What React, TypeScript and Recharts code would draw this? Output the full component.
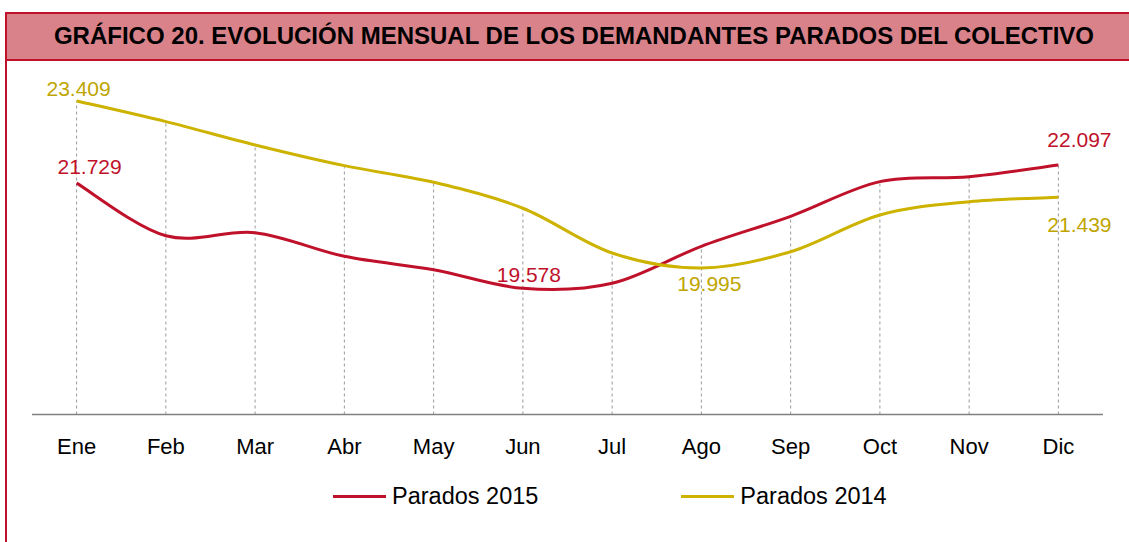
import { LineChart, Line, XAxis, YAxis, ReferenceLine, Legend } from "recharts";

const months = ["Ene", "Feb", "Mar", "Abr", "May", "Jun", "Jul", "Ago", "Sep", "Oct", "Nov", "Dic"];
const parados2015 = [21729, 20654, 20716, 20233, 19959, 19578, 19681, 20438, 21051, 21759, 21861, 22097];
const parados2014 = [23409, 22986, 22509, 22086, 21746, 21215, 20301, 19995, 20327, 21078, 21350, 21439];
const yDomain = [17000, 24000];
const seriesNames = ["Parados 2015", "Parados 2014"];
const labeled2015 = ["Ene", "Jun", "Dic"];
const labeled2014 = ["Ene", "Ago", "Dic"];

const RED = "#C0112B";
const GOLD = "#CDB300";
const FONT = "'Liberation Sans', Arial, sans-serif";

// label nudges (dx, dy) as placed in the original
const offsets2015: Record<string, [number, number]> = { Ene: [13, -16], Jun: [6, -14], Dic: [21, -25] };
const offsets2014: Record<string, [number, number]> = { Ene: [2, -12], Ago: [8, 16], Dic: [21, 27] };

const data = months.map((m, i) => ({ mes: m, p2015: parados2015[i], p2014: parados2014[i] }));

// Excel-like smoothing (Catmull-Rom through every point)
function excelCurve(context: any) {
  let pts: number[][] = [];
  return {
    areaStart() {},
    areaEnd() {},
    lineStart() {
      pts = [];
    },
    point(x: number, y: number) {
      pts.push([+x, +y]);
    },
    lineEnd() {
      if (!pts.length) return;
      context.moveTo(pts[0][0], pts[0][1]);
      for (let i = 0; i < pts.length - 1; i++) {
        const p0 = pts[Math.max(i - 1, 0)];
        const p1 = pts[i];
        const p2 = pts[i + 1];
        const p3 = pts[Math.min(i + 2, pts.length - 1)];
        context.bezierCurveTo(
          p1[0] + (p2[0] - p0[0]) / 6,
          p1[1] + (p2[1] - p0[1]) / 6,
          p2[0] - (p3[0] - p1[0]) / 6,
          p2[1] - (p3[1] - p1[1]) / 6,
          p2[0],
          p2[1]
        );
      }
    },
  };
}

const fmt = (v: number) => v.toLocaleString("de-DE");

const makeLabel = (shown: string[], offs: Record<string, [number, number]>, color: string) => (p: any) => {
  const m = months[p.index];
  if (!shown.includes(m)) return <g key={p.index} />;
  const [dx, dy] = offs[m];
  return (
    <text key={p.index} x={p.x + dx} y={p.y + dy} dy="0.35em" textAnchor="middle" fill={color} fontSize={21} fontFamily={FONT}>
      {fmt(p.value)}
    </text>
  );
};

const renderLegend = (props: any) => {
  const items = [...(props.payload || [])].sort(
    (a: any, b: any) => seriesNames.indexOf(a.value) - seriesNames.indexOf(b.value)
  );
  return (
    <div style={{ display: "flex", height: 30, alignItems: "center", paddingLeft: 333, fontFamily: FONT }}>
      {items.map((e: any, i: number) => (
        <div key={i} style={{ display: "flex", alignItems: "center", marginRight: 143 }}>
          <span style={{ display: "inline-block", width: 53, height: 3, background: e.color, marginRight: 6 }} />
          <span style={{ fontSize: 23.5, color: "#000" }}>{e.value}</span>
        </div>
      ))}
    </div>
  );
};

export default function App() {
  return (
    <div style={{ position: "absolute", left: 0, top: 0, width: 1129, height: 542, background: "#fff", fontFamily: FONT, overflow: "hidden" }}>
      <div style={{ position: "absolute", left: 5, top: 12, right: 0, bottom: 0, borderLeft: `2px solid ${RED}` }} />
      <div
        style={{
          position: "absolute",
          left: 5,
          top: 12,
          width: 1122,
          height: 44.5,
          background: "#D9828A",
          borderTop: `2.5px solid ${RED}`,
          borderBottom: `2.5px solid ${RED}`,
          borderLeft: `2px solid ${RED}`,
          boxSizing: "content-box",
          display: "flex",
          alignItems: "center",
          justifyContent: "center",
          paddingLeft: 6,
          fontWeight: "bold",
          fontSize: 24,
          color: "#000",
          whiteSpace: "nowrap",
        }}
      >
        GRÁFICO 20. EVOLUCIÓN MENSUAL DE LOS DEMANDANTES PARADOS DEL COLECTIVO
      </div>
      <div style={{ position: "absolute", left: 0, top: 0 }}>
        <LineChart width={1129} height={542} data={data} margin={{ top: 72, right: 26, left: 32, bottom: 31 }}>
          <YAxis hide domain={yDomain} />
          <XAxis
            dataKey="mes"
            height={66.5}
            padding={{ left: 44.6, right: 44.6 }}
            axisLine={{ stroke: "#808080", strokeWidth: 1.5 }}
            tickLine={false}
            tickMargin={18}
            tick={{ fill: "#000", fontSize: 22, fontFamily: FONT }}
            interval={0}
          />
          {months.map((m, i) => (
            <ReferenceLine
              key={m}
              segment={[
                { x: m, y: yDomain[0] },
                { x: m, y: Math.max(parados2015[i], parados2014[i]) },
              ]}
              stroke="#9a9a9a"
              strokeDasharray="3 3"
              strokeWidth={1}
            />
          ))}
          <Line
            dataKey="p2015"
            name={seriesNames[0]}
            type={excelCurve as any}
            stroke={RED}
            strokeWidth={3}
            dot={false}
            activeDot={false}
            isAnimationActive={false}
            label={makeLabel(labeled2015, offsets2015, RED)}
          />
          <Line
            dataKey="p2014"
            name={seriesNames[1]}
            type={excelCurve as any}
            stroke={GOLD}
            strokeWidth={3}
            dot={false}
            activeDot={false}
            isAnimationActive={false}
            label={makeLabel(labeled2014, offsets2014, "#BFA500")}
          />
          <Legend verticalAlign="bottom" content={renderLegend} wrapperStyle={{ left: 0, width: 1129 }} />
        </LineChart>
      </div>
    </div>
  );
}
